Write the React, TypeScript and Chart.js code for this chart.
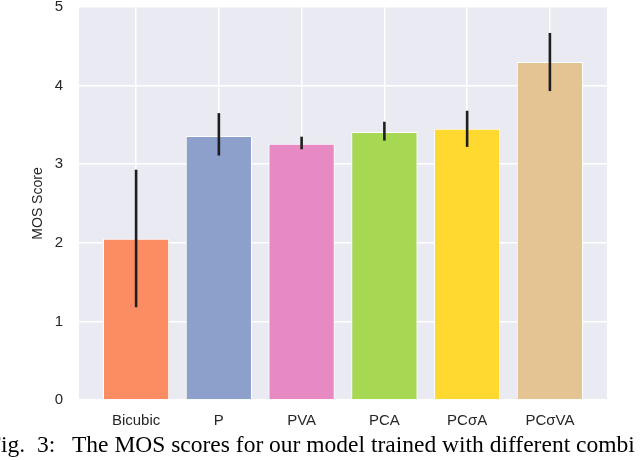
import React, { useEffect, useRef } from "react";
import { Chart, registerables } from "chart.js";

Chart.register(...registerables);

const categories = ["Bicubic", "P", "PVA", "PCA", "PCσA", "PCσVA"];
const meanScores = [2.05, 3.36, 3.26, 3.41, 3.45, 4.3];
const errLow = [1.18, 3.11, 3.19, 3.3, 3.22, 3.93];
const errHigh = [2.93, 3.65, 3.35, 3.54, 3.68, 4.67];
const barColors = ["#FC8D62", "#8DA0CB", "#E78AC3", "#A6D854", "#FFD92F", "#E5C494"];
const yTicks = [0, 1, 2, 3, 4, 5];

const bgPlugin = {
  id: "plotBg",
  beforeDraw(chart: any) {
    const { ctx, chartArea } = chart;
    if (!chartArea) return;
    ctx.save();
    ctx.fillStyle = "#EAEAF2";
    ctx.fillRect(chartArea.left, chartArea.top, chartArea.right - chartArea.left, chartArea.bottom - chartArea.top);
    ctx.restore();
  },
};

const errPlugin = {
  id: "errBars",
  afterDatasetsDraw(chart: any) {
    const { ctx } = chart;
    const xs = chart.scales.x;
    const ys = chart.scales.y;
    ctx.save();
    ctx.strokeStyle = "#1e1e1e";
    ctx.lineWidth = 2.6;
    ctx.lineCap = "butt";
    categories.forEach((_, i) => {
      const x = xs.getPixelForValue(i);
      ctx.beginPath();
      ctx.moveTo(x, ys.getPixelForValue(errLow[i]));
      ctx.lineTo(x, ys.getPixelForValue(errHigh[i]));
      ctx.stroke();
    });
    ctx.restore();
  },
};

export default function App() {
  const ref = useRef<HTMLCanvasElement | null>(null);
  useEffect(() => {
    if (!ref.current) return;
    const chart = new Chart(ref.current, {
      type: "bar",
      data: {
        datasets: [
          {
            data: categories.map((_, i) => ({ x: i, y: meanScores[i] })),
            backgroundColor: barColors,
            borderColor: "#ffffff",
            borderWidth: 1,
            barPercentage: 0.8,
            categoryPercentage: 1,
          },
        ],
      },
      options: {
        responsive: false,
        animation: false,
        layout: { padding: { left: 0, right: 33, top: 7, bottom: 0 } },
        plugins: { legend: { display: false }, tooltip: { enabled: false } },
        scales: {
          x: {
            type: "linear",
            offset: false,
            min: -0.69,
            max: 5.69,
            afterBuildTicks(scale: any) {
              scale.ticks = categories.map((_, i) => ({ value: i }));
            },
            afterFit(scale: any) {
              scale.height = 60;
              scale.paddingLeft = 0;
              scale.paddingRight = 0;
            },
            grid: { color: "#ffffff", lineWidth: 1.5, drawTicks: false, offset: false },
            border: { display: false },
            ticks: {
              padding: 12,
              color: "#262626",
              font: { family: "'Liberation Sans', Arial, sans-serif", size: 15 },
              callback: (v: any) => categories[Math.round(Number(v))] ?? "",
            },
          },
          y: {
            type: "linear",
            min: 0,
            max: 5,
            afterBuildTicks(scale: any) {
              scale.ticks = yTicks.map((v) => ({ value: v }));
            },
            afterFit(scale: any) {
              scale.width = 79;
              scale.paddingTop = 0;
              scale.paddingBottom = 0;
            },
            grid: { color: "#ffffff", lineWidth: 1.5, drawTicks: false },
            border: { display: false },
            ticks: {
              padding: 16,
              color: "#262626",
              font: { family: "'Liberation Sans', Arial, sans-serif", size: 15 },
              callback: (v: any) => String(v),
            },
            title: {
              display: true,
              text: "MOS Score",
              color: "#262626",
              padding: { top: 30, bottom: 0 },
              font: { family: "'Liberation Sans', Arial, sans-serif", size: 14 },
            },
          },
        },
      },
      plugins: [bgPlugin, errPlugin],
    } as any);
    return () => chart.destroy();
  }, []);

  const cap: React.CSSProperties = {
    position: "absolute",
    top: 432,
    fontFamily: "'Liberation Serif', 'Times New Roman', serif",
    fontSize: 23.5,
    lineHeight: "24px",
    color: "#000",
    whiteSpace: "nowrap",
  };

  return (
    <div style={{ position: "fixed", left: 0, top: 0, width: 640, height: 460, overflow: "hidden", background: "#fff" }}>
      <canvas ref={ref} width={640} height={460} style={{ position: "absolute", left: 0, top: 0, width: 640, height: 460 }} />
      <span style={{ ...cap, left: -12 }}>Fig.</span>
      <span style={{ ...cap, left: 37 }}>3:</span>
      <span style={{ ...cap, left: 72 }}>The MOS scores for our model trained with different combi</span>
    </div>
  );
}
